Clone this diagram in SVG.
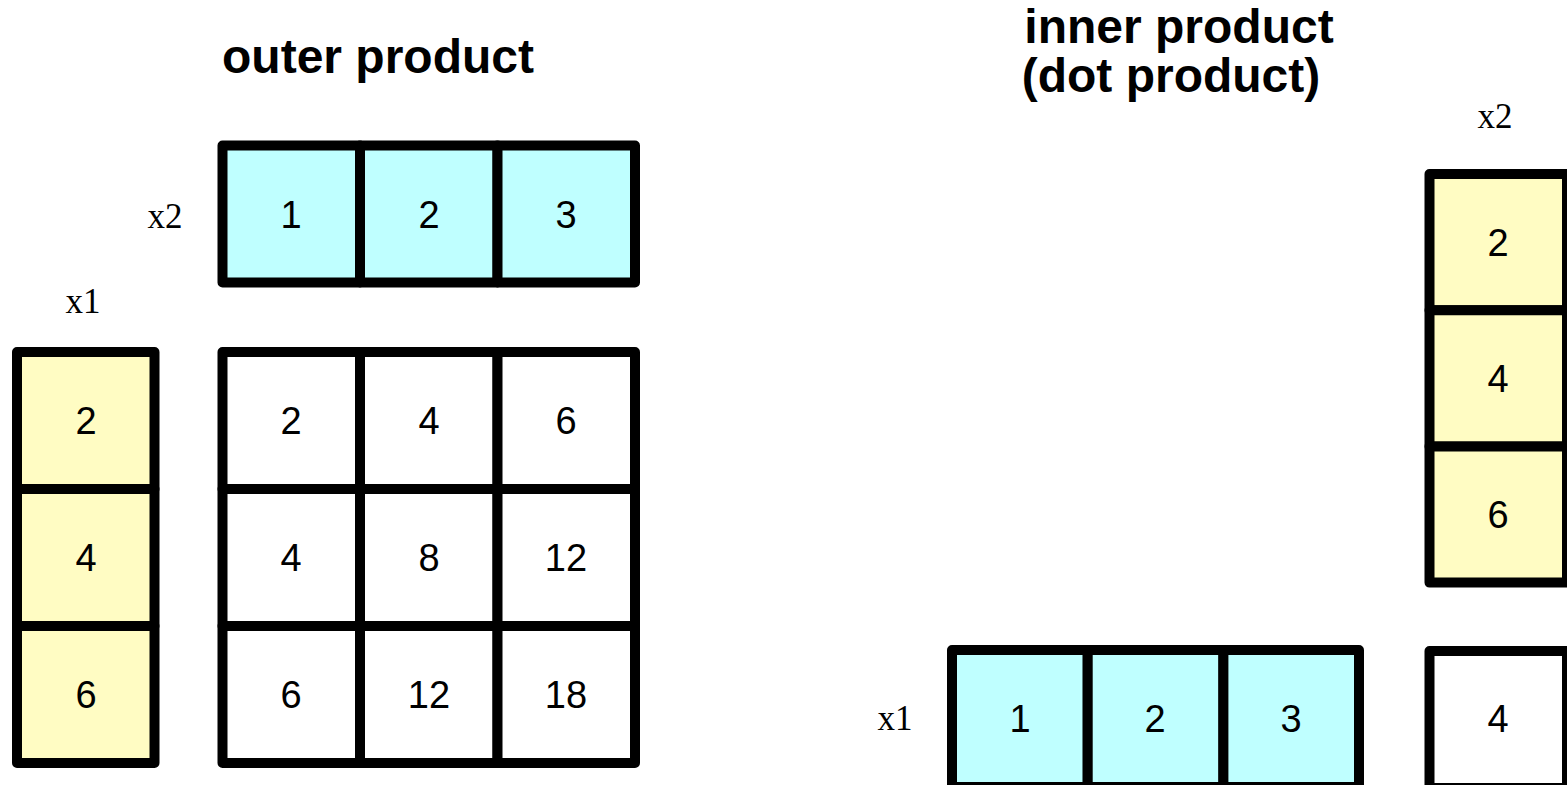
<svg xmlns="http://www.w3.org/2000/svg" width="1567" height="785" viewBox="0 0 1567 785">
  <style>
    .cell { stroke: #000; stroke-width: 10; stroke-linejoin: round; }
    .cyan { fill: #BFFFFF; }
    .yellow { fill: #FFFCC3; }
    .white { fill: #FFFFFF; }
    .num { font-family: "Liberation Sans", Arial, sans-serif; font-size: 38px; fill: #000; text-anchor: middle; }
    .lbl { font-family: "Liberation Serif", "Times New Roman", serif; font-size: 35px; fill: #000; text-anchor: middle; }
    .title { font-family: "Liberation Sans", Arial, sans-serif; font-size: 48px; font-weight: bold; fill: #000; text-anchor: middle; }
  </style>
  <rect width="1567" height="785" fill="#FFFFFF"/>

  <!-- Outer product -->
  <g id="title-outer">
    <text class="title" x="378" y="73">outer product</text>
  </g>

  <g id="outer-x2">
    <text class="lbl" x="165" y="228">x2</text>
    <rect class="cell cyan" x="222.5" y="145.5" width="137.5" height="137"/>
    <rect class="cell cyan" x="360" y="145.5" width="137.5" height="137"/>
    <rect class="cell cyan" x="497.5" y="145.5" width="137.5" height="137"/>
    <text class="num" x="291" y="228">1</text>
    <text class="num" x="429" y="228">2</text>
    <text class="num" x="566" y="228">3</text>
  </g>

  <g id="outer-x1">
    <text class="lbl" x="83" y="313">x1</text>
    <rect class="cell yellow" x="17" y="352" width="137.5" height="137"/>
    <rect class="cell yellow" x="17" y="489" width="137.5" height="137"/>
    <rect class="cell yellow" x="17" y="626" width="137.5" height="137"/>
    <text class="num" x="86" y="434">2</text>
    <text class="num" x="86" y="571">4</text>
    <text class="num" x="86" y="708">6</text>
  </g>

  <g id="outer-result">
    <rect class="cell white" x="222.5" y="352" width="137.5" height="137"/>
    <rect class="cell white" x="360" y="352" width="137.5" height="137"/>
    <rect class="cell white" x="497.5" y="352" width="137.5" height="137"/>
    <rect class="cell white" x="222.5" y="489" width="137.5" height="137"/>
    <rect class="cell white" x="360" y="489" width="137.5" height="137"/>
    <rect class="cell white" x="497.5" y="489" width="137.5" height="137"/>
    <rect class="cell white" x="222.5" y="626" width="137.5" height="137"/>
    <rect class="cell white" x="360" y="626" width="137.5" height="137"/>
    <rect class="cell white" x="497.5" y="626" width="137.5" height="137"/>
    <text class="num" x="291" y="434">2</text>
    <text class="num" x="429" y="434">4</text>
    <text class="num" x="566" y="434">6</text>
    <text class="num" x="291" y="571">4</text>
    <text class="num" x="429" y="571">8</text>
    <text class="num" x="566" y="571">12</text>
    <text class="num" x="291" y="708">6</text>
    <text class="num" x="429" y="708">12</text>
    <text class="num" x="566" y="708">18</text>
  </g>

  <!-- Inner product -->
  <g id="title-inner">
    <text class="title" x="1179" y="43">inner product</text>
    <text class="title" x="1171" y="92">(dot product)</text>
  </g>

  <g id="inner-x2">
    <text class="lbl" x="1495" y="128">x2</text>
    <rect class="cell yellow" x="1429.5" y="174" width="137.5" height="136.2"/>
    <rect class="cell yellow" x="1429.5" y="310.2" width="137.5" height="136.2"/>
    <rect class="cell yellow" x="1429.5" y="446.4" width="137.5" height="136.2"/>
    <text class="num" x="1498" y="256">2</text>
    <text class="num" x="1498" y="392">4</text>
    <text class="num" x="1498" y="528">6</text>
  </g>

  <g id="inner-x1">
    <text class="lbl" x="895" y="730">x1</text>
    <rect class="cell cyan" x="952" y="650" width="135.7" height="137"/>
    <rect class="cell cyan" x="1087.7" y="650" width="135.7" height="137"/>
    <rect class="cell cyan" x="1223.4" y="650" width="135.6" height="137"/>
    <text class="num" x="1020" y="732">1</text>
    <text class="num" x="1155" y="732">2</text>
    <text class="num" x="1291" y="732">3</text>
  </g>

  <g id="inner-result">
    <rect class="cell white" x="1429.5" y="651" width="137.5" height="137"/>
    <text class="num" x="1498" y="732">4</text>
  </g>

  <g id="connectors"></g>
</svg>
